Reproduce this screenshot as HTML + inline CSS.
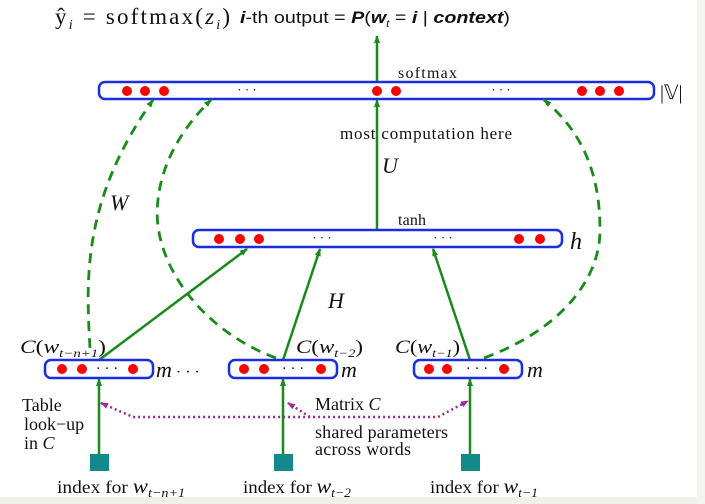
<!DOCTYPE html>
<html><head><meta charset="utf-8"><style>
html,body{margin:0;padding:0;background:#fff;}
svg{display:block;}
text{font-family:"Liberation Serif",serif;fill:#111;}
</style></head><body>
<svg width="705" height="504" viewBox="0 0 705 504">
<defs>
<marker id="ga" markerWidth="8" markerHeight="8" refX="7" refY="4" orient="auto" markerUnits="userSpaceOnUse"><path d="M0,1 L8,4 L0,7 Z" fill="#1a8a1a"/></marker>
<marker id="pa" markerWidth="8" markerHeight="8" refX="7" refY="4" orient="auto" markerUnits="userSpaceOnUse"><path d="M0,1 L8,4 L0,7 Z" fill="#9a2a9a"/></marker>
</defs>
<rect x="0" y="497" width="705" height="7" fill="#f1f1ec"/>
<rect x="697" y="0" width="8" height="504" fill="#f3f3f0"/>

<text x="55" y="24" font-size="23" textLength="175" lengthAdjust="spacing">ŷ<tspan font-size="14" dy="5" font-style="italic">i</tspan><tspan dy="-5"> = softmax(</tspan><tspan font-style="italic">z</tspan><tspan font-size="14" dy="5" font-style="italic">i</tspan><tspan dy="-5">)</tspan></text>
<text x="240" y="23" font-size="17" textLength="270" lengthAdjust="spacingAndGlyphs" style="font-family:'Liberation Sans',sans-serif"><tspan font-style="italic" font-weight="bold">i</tspan>-th output = <tspan font-style="italic" font-weight="bold">P</tspan>(<tspan font-style="italic" font-weight="bold">w</tspan><tspan font-size="10" dy="4" font-style="italic">t</tspan><tspan dy="-4"> = </tspan><tspan font-style="italic" font-weight="bold">i</tspan> | <tspan font-style="italic" font-weight="bold">context</tspan>)</text>

<line x1="377" y1="82" x2="377" y2="36" stroke="#1a8a1a" stroke-width="2.5" marker-end="url(#ga)"/>
<line x1="377" y1="229" x2="377" y2="100" stroke="#1a8a1a" stroke-width="2.5" marker-end="url(#ga)"/>

<g>
<rect x="99" y="82" width="555" height="17" rx="6" fill="#fff" stroke="#1a2ee0" stroke-width="2.5"/>
<circle cx="127" cy="91" r="5" fill="#f00"/><circle cx="145" cy="91" r="5" fill="#f00"/><circle cx="164" cy="91" r="5" fill="#f00"/>
<circle cx="377" cy="91" r="5" fill="#f00"/><circle cx="396" cy="91" r="5" fill="#f00"/>
<circle cx="582" cy="91" r="5" fill="#f00"/><circle cx="600" cy="91" r="5" fill="#f00"/><circle cx="619" cy="91" r="5" fill="#f00"/>
<text x="247" y="94" font-size="13" text-anchor="middle">· · ·</text>
<text x="501" y="94" font-size="13" text-anchor="middle">· · ·</text>
</g>
<text x="660" y="99" font-size="20">|𝕍|</text>
<text x="398" y="78" font-size="16" textLength="59">softmax</text>
<text x="340" y="139" font-size="17" textLength="172">most  computation here</text>
<text x="382" y="173" font-size="22" font-style="italic">U</text>
<text x="110" y="210" font-size="22" font-style="italic">W</text>
<text x="398" y="225" font-size="16" textLength="28">tanh</text>
<text x="328" y="308" font-size="22" font-style="italic">H</text>

<path d="M90,348 C86,280 82,200 153,100" fill="none" stroke="#1a8a1a" stroke-width="2.8" stroke-dasharray="10,7" marker-end="url(#ga)"/>
<path d="M276,358 C200,330 150,260 158,200 C162,160 185,125 211,100" fill="none" stroke="#1a8a1a" stroke-width="2.8" stroke-dasharray="10,7" marker-end="url(#ga)"/>
<path d="M484,358 C560,330 600,280 600,230 C600,170 580,130 544,100" fill="none" stroke="#1a8a1a" stroke-width="2.8" stroke-dasharray="10,7" marker-end="url(#ga)"/>

<line x1="99" y1="360" x2="247" y2="249" stroke="#1a8a1a" stroke-width="2.5" marker-end="url(#ga)"/>
<line x1="283" y1="360" x2="320" y2="249" stroke="#1a8a1a" stroke-width="2.5" marker-end="url(#ga)"/>
<line x1="470" y1="360" x2="433" y2="249" stroke="#1a8a1a" stroke-width="2.5" marker-end="url(#ga)"/>

<g>
<rect x="193" y="230" width="369" height="17" rx="6" fill="#fff" stroke="#1a2ee0" stroke-width="2.5"/>
<circle cx="219" cy="239" r="5" fill="#f00"/><circle cx="240" cy="239" r="5" fill="#f00"/><circle cx="259" cy="239" r="5" fill="#f00"/>
<circle cx="519" cy="239" r="5" fill="#f00"/><circle cx="540" cy="239" r="5" fill="#f00"/>
<text x="322" y="242" font-size="13" text-anchor="middle">· · ·</text>
<text x="443" y="242" font-size="13" text-anchor="middle">· · ·</text>
</g>
<text x="570" y="249" font-size="24" font-style="italic">h</text>

<g>
<rect x="45" y="360" width="108" height="18" rx="6" fill="#fff" stroke="#1a2ee0" stroke-width="2.5"/>
<circle cx="62" cy="369" r="5" fill="#f00"/><circle cx="82" cy="369" r="5" fill="#f00"/><circle cx="133" cy="369" r="5" fill="#f00"/>
<text x="107" y="373" font-size="15" text-anchor="middle">· · ·</text>
</g>
<g>
<rect x="229" y="360" width="108" height="18" rx="6" fill="#fff" stroke="#1a2ee0" stroke-width="2.5"/>
<circle cx="244" cy="369" r="5" fill="#f00"/><circle cx="264" cy="369" r="5" fill="#f00"/><circle cx="321" cy="369" r="5" fill="#f00"/>
<text x="293" y="373" font-size="15" text-anchor="middle">· · ·</text>
</g>
<g>
<rect x="414" y="360" width="108" height="18" rx="6" fill="#fff" stroke="#1a2ee0" stroke-width="2.5"/>
<circle cx="429" cy="369" r="5" fill="#f00"/><circle cx="447" cy="369" r="5" fill="#f00"/><circle cx="504" cy="369" r="5" fill="#f00"/>
<text x="477" y="373" font-size="15" text-anchor="middle">· · ·</text>
</g>
<text x="156" y="377" font-size="22" font-style="italic">m<tspan font-style="normal" font-size="16"> · · ·</tspan></text>
<text x="341" y="377" font-size="22" font-style="italic">m</text>
<text x="527" y="377" font-size="22" font-style="italic">m</text>

<text x="20" y="353" font-size="19" textLength="86" lengthAdjust="spacingAndGlyphs"><tspan font-style="italic">C</tspan>(<tspan font-style="italic">w</tspan><tspan font-size="12" dy="4" font-style="italic">t−n+1</tspan><tspan dy="-4">)</tspan></text>
<text x="296" y="353" font-size="19" textLength="67" lengthAdjust="spacingAndGlyphs"><tspan font-style="italic">C</tspan>(<tspan font-style="italic">w</tspan><tspan font-size="12" dy="4" font-style="italic">t−2</tspan><tspan dy="-4">)</tspan></text>
<text x="395" y="353" font-size="19" textLength="65" lengthAdjust="spacingAndGlyphs"><tspan font-style="italic">C</tspan>(<tspan font-style="italic">w</tspan><tspan font-size="12" dy="4" font-style="italic">t−1</tspan><tspan dy="-4">)</tspan></text>

<line x1="99" y1="455" x2="99" y2="379" stroke="#1a8a1a" stroke-width="2.5" marker-end="url(#ga)"/>
<line x1="283" y1="455" x2="283" y2="379" stroke="#1a8a1a" stroke-width="2.5" marker-end="url(#ga)"/>
<line x1="470" y1="455" x2="470" y2="379" stroke="#1a8a1a" stroke-width="2.5" marker-end="url(#ga)"/>
<rect x="90" y="454" width="19" height="17" fill="#128a8a"/>
<rect x="274" y="454" width="19" height="17" fill="#128a8a"/>
<rect x="461" y="454" width="19" height="17" fill="#128a8a"/>

<path d="M101,403 L133,417 L438,417 L468,401" fill="none" stroke="#9a2a9a" stroke-width="2.5" stroke-dasharray="2,3"/>
<path d="M133,417 L101,403" fill="none" stroke="none" marker-end="url(#pa)"/>
<path d="M310,417 L288,403" fill="none" stroke="#9a2a9a" stroke-width="2.5" stroke-dasharray="2,3" marker-end="url(#pa)"/>
<path d="M438,417 L468,401" fill="none" stroke="none" marker-end="url(#pa)"/>

<text x="22" y="411" font-size="18">Table</text>
<text x="24" y="430" font-size="18">look−up</text>
<text x="24" y="449" font-size="18">in <tspan font-style="italic">C</tspan></text>
<text x="315" y="410" font-size="18">Matrix <tspan font-style="italic">C</tspan></text>
<text x="315" y="438" font-size="18" textLength="133">shared parameters</text>
<text x="315" y="455" font-size="18" textLength="96">across words</text>

<text x="57" y="493" font-size="18" textLength="128" lengthAdjust="spacingAndGlyphs">index for <tspan font-style="italic" font-size="21">w</tspan><tspan font-style="italic" font-size="13" dy="4">t−n+1</tspan></text>
<text x="243" y="493" font-size="18" textLength="108" lengthAdjust="spacingAndGlyphs">index for <tspan font-style="italic" font-size="21">w</tspan><tspan font-style="italic" font-size="13" dy="4">t−2</tspan></text>
<text x="430" y="493" font-size="18" textLength="108" lengthAdjust="spacingAndGlyphs">index for <tspan font-style="italic" font-size="21">w</tspan><tspan font-style="italic" font-size="13" dy="4">t−1</tspan></text>
</svg>
</body></html>
